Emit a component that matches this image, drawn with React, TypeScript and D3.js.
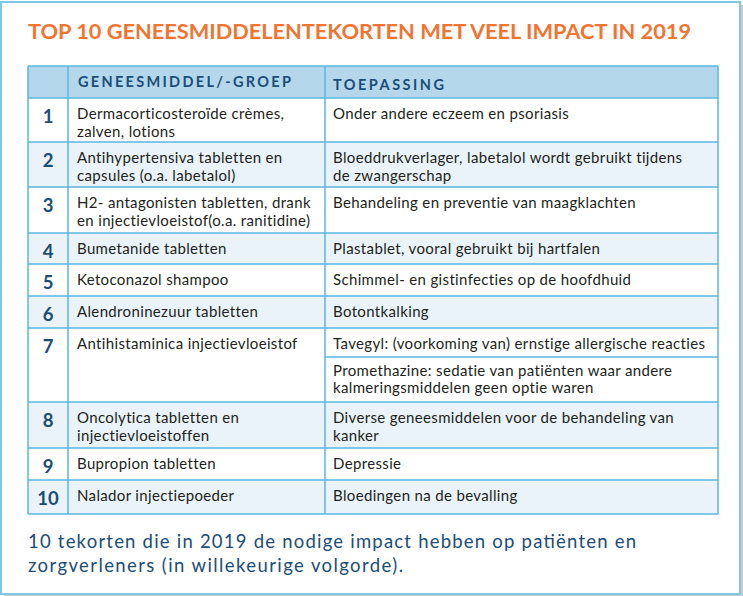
import React from 'react';
import * as d3 from 'd3';

const title = 'TOP 10 GENEESMIDDELENTEKORTEN MET VEEL IMPACT IN 2019';
const headers = ['GENEESMIDDEL/-GROEP', 'TOEPASSING'];
const ranks = ['1', '2', '3', '4', '5', '6', '7', '8', '9', '10'];
const drugs: string[][] = [
  ['Dermacorticosteroïde crèmes,', 'zalven, lotions'],
  ['Antihypertensiva tabletten en', 'capsules (o.a. labetalol)'],
  ['H2- antagonisten tabletten, drank', 'en injectievloeistof(o.a. ranitidine)'],
  ['Bumetanide tabletten'],
  ['Ketoconazol shampoo'],
  ['Alendroninezuur tabletten'],
  ['Antihistaminica injectievloeistof'],
  ['Oncolytica tabletten en', 'injectievloeistoffen'],
  ['Bupropion tabletten'],
  ['Nalador injectiepoeder'],
];
const uses: string[][][] = [
  [['Onder andere eczeem en psoriasis']],
  [['Bloeddrukverlager, labetalol wordt gebruikt tijdens', 'de zwangerschap']],
  [['Behandeling en preventie van maagklachten']],
  [['Plastablet, vooral gebruikt bij hartfalen']],
  [['Schimmel- en gistinfecties op de hoofdhuid']],
  [['Botontkalking']],
  [
    ['Tavegyl: (voorkoming van) ernstige allergische reacties'],
    ['Promethazine: sedatie van patiënten waar andere', 'kalmeringsmiddelen geen optie waren'],
  ],
  [['Diverse geneesmiddelen voor de behandeling van', 'kanker']],
  [['Depressie']],
  [['Bloedingen na de bevalling']],
];
const captionLines = [
  '10 tekorten die in 2019 de nodige impact hebben op patiënten en',
  'zorgverleners (in willekeurige volgorde).',
];

// layout
const W = 743;
const H = 596;
const colEdges = [28, 68, 325, 718];
const headerTop = 66;
const rowEdges = [98, 142, 187, 233, 264, 296, 328, 402, 448, 480, 514];
const row7Split = 357;

const C = {
  orange: '#f37330',
  border: '#5ab7df',
  headerFill: '#b4d7eb',
  altFill: '#e9f3f9',
  darkBlue: '#1b4d77',
  text: '#231f20',
  frame: '#7fc8e6',
  shadow: '#c9c9c9',
};
const FONT = 'Lato, "Noto Sans", sans-serif';
const BODY = 15;
const BODY_LS = 0.35;

export default function App() {
  const yRow = d3.scaleOrdinal<string, number>().domain(ranks).range(rowEdges.slice(0, -1));
  const lineH = 17.4;

  return (
    <div style={{ position: 'absolute', left: 0, top: 0 }}>
      <svg width={W} height={H} style={{ display: 'block', fontFamily: FONT }}>
        <rect x={0} y={0} width={W} height={H} fill="#ffffff" />
        {/* shadow */}
        <rect x={4} y={5} width={W - 4} height={H - 5} fill={C.shadow} />
        <rect x={1} y={2} width={739} height={592} fill="#ffffff" stroke={C.frame} strokeWidth={2} />

        <text x={28} y={39} fill={C.orange} fontSize={21} fontWeight={700}
          textLength={663} lengthAdjust="spacingAndGlyphs">{title}</text>

        {/* header */}
        <rect x={colEdges[0]} y={headerTop} width={colEdges[3] - colEdges[0]} height={rowEdges[0] - headerTop}
          fill={C.headerFill} />
        <text x={78} y={87} fill={C.darkBlue} fontSize={14.5} fontWeight={700}
          textLength={213} lengthAdjust="spacing">{headers[0]}</text>
        <text x={333} y={90} fill={C.darkBlue} fontSize={14.5} fontWeight={700}
          textLength={111} lengthAdjust="spacing">{headers[1]}</text>

        {/* rows */}
        {ranks.map((r, i) => {
          const top = yRow(r) as number;
          const bottom = rowEdges[i + 1];
          const fill = i % 2 === 1 ? C.altFill : '#ffffff';
          const subs = uses[i];
          return (
            <g key={r}>
              <rect x={colEdges[0]} y={top} width={colEdges[3] - colEdges[0]} height={bottom - top} fill={fill} />
              <text x={(colEdges[0] + colEdges[1]) / 2} y={top + 25.3} textAnchor="middle"
                fill={C.darkBlue} fontSize={18.5} fontWeight={700}>{r}</text>
              {drugs[i].map((t, j) => (
                <text key={j} x={colEdges[1] + 9} y={top + 21.3 + j * lineH} fill={C.text}
                  fontSize={BODY} letterSpacing={BODY_LS}>{t}</text>
              ))}
              {subs.map((lines, s) => {
                const subTop = s === 0 ? top : row7Split;
                const off = s === 0 ? 21.3 : 18.5;
                return lines.map((t, j) => (
                  <text key={`${s}-${j}`} x={colEdges[2] + 8} y={subTop + off + j * lineH}
                    fill={C.text} fontSize={BODY} letterSpacing={BODY_LS}>{t}</text>
                ));
              })}
              {subs.length > 1 && (
                <line x1={colEdges[2]} x2={colEdges[3]} y1={row7Split} y2={row7Split} stroke={C.border} strokeWidth={1.5} />
              )}
            </g>
          );
        })}

        {/* grid lines */}
        {[headerTop, ...rowEdges].map((y, i) => (
          <line key={`h${i}`} x1={colEdges[0]} x2={colEdges[3]} y1={y} y2={y} stroke={C.border} strokeWidth={1.5} />
        ))}
        {colEdges.map((x, i) => (
          <line key={`v${i}`} x1={x} x2={x} y1={headerTop} y2={rowEdges[rowEdges.length - 1]} stroke={C.border} strokeWidth={1.5} />
        ))}

        {/* caption */}
        {captionLines.map((t, i) => (
          <text key={i} x={28} y={548 + i * 24} fill={C.darkBlue} fontSize={18.5}
            textLength={i === 0 ? 608 : 375} lengthAdjust="spacing">{t}</text>
        ))}
      </svg>
    </div>
  );
}
